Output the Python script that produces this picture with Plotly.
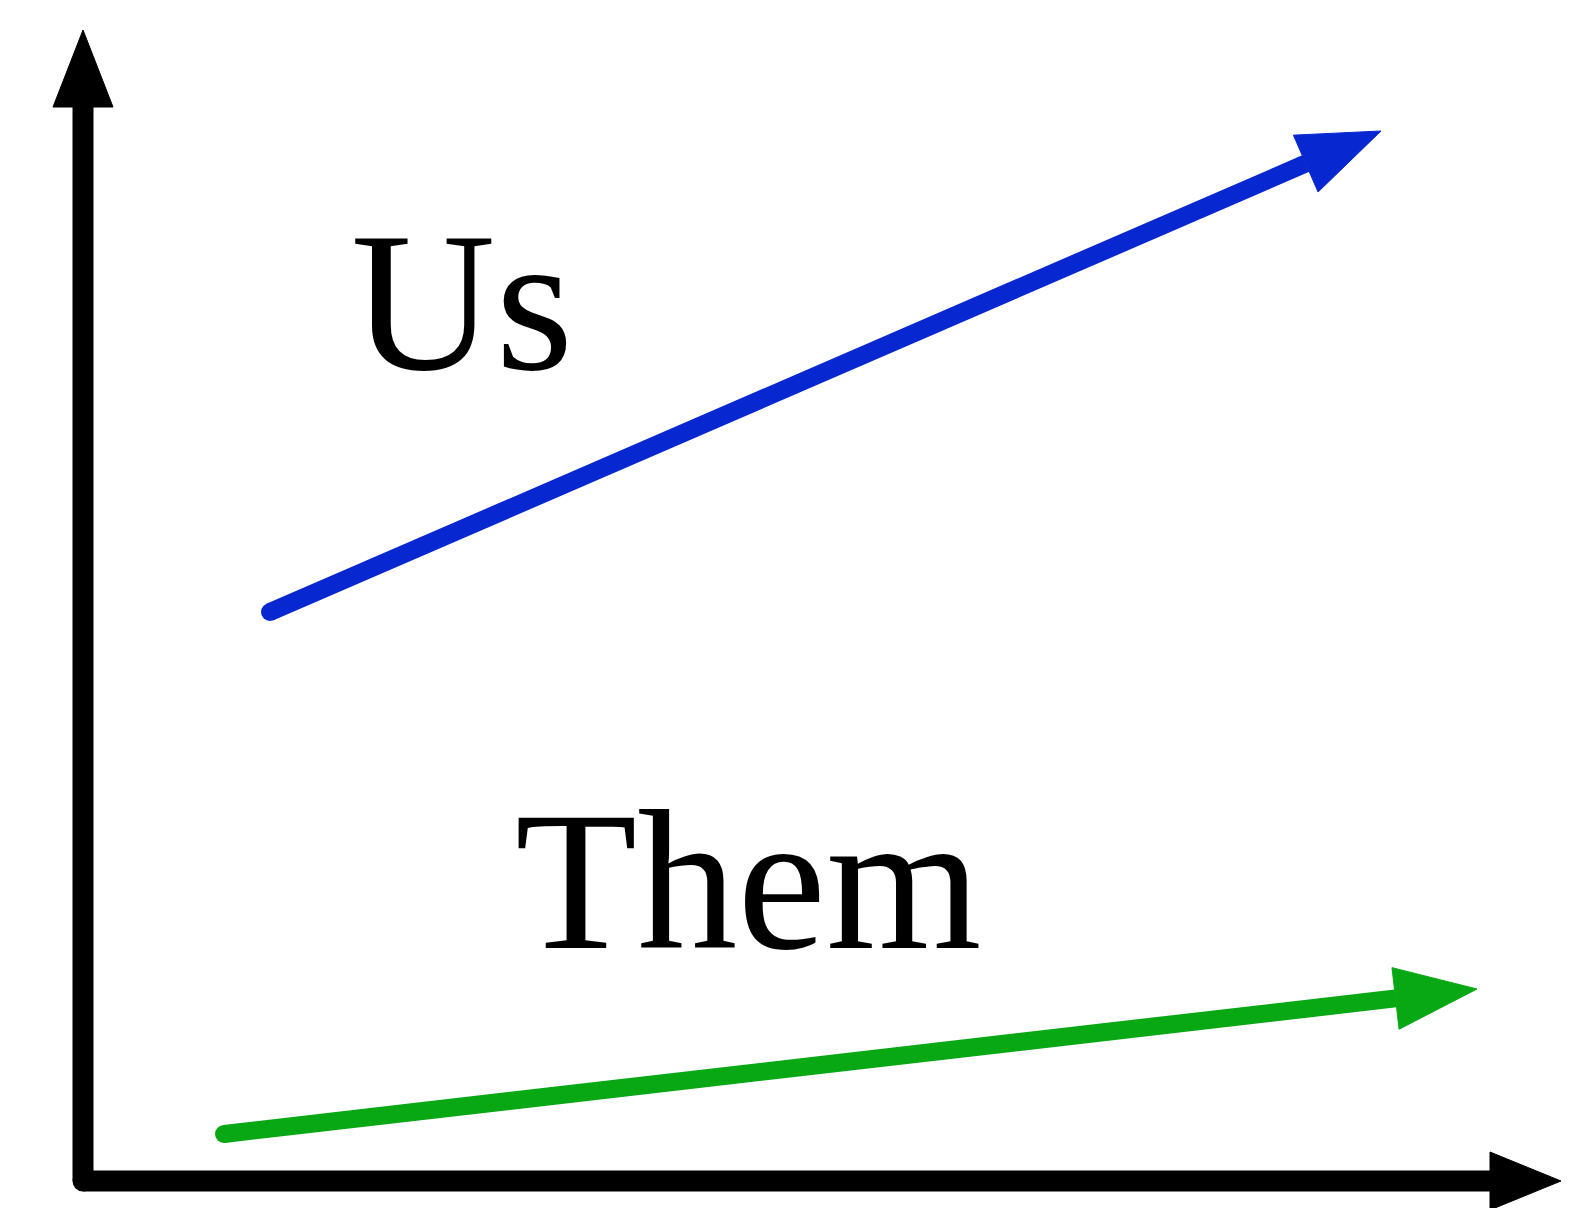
import numpy as np
import plotly.graph_objects as go

# arrow endpoints in chart units (origin = corner of the axes)
us_x = [1.87, 12.98]
us_y = [5.69, 10.50]
them_x = [1.41, 13.94]
them_y = [0.47, 1.92]
axis_x = [0.0, 0.0, 14.78]
axis_y = [11.51, 0.0, 0.0]

labels = ["Us", "Them"]
label_x = [3.79, 6.65]
label_y = [8.80, 3.01]

BLUE = "#0727d1"
GREEN = "#07a814"
BLACK = "#000000"


def head(tip, back, length, half):
    # filled triangle pointing from back -> tip
    tip = np.array(tip)
    d = tip - np.array(back)
    d = d / np.hypot(*d)
    n = np.array([-d[1], d[0]])
    base = tip - length * d
    pts = [tip, base + half * n, base - half * n, tip]
    return [p[0] for p in pts], [p[1] for p in pts], base


fig = go.Figure()


def line(xs, ys, color, width):
    fig.add_trace(go.Scatter(x=xs, y=ys, mode="lines",
                             line=dict(color=color, width=width),
                             hoverinfo="skip"))


def dot(x, y, color, size):
    fig.add_trace(go.Scatter(x=[x], y=[y], mode="markers",
                             marker=dict(color=color, size=size, line=dict(width=0)),
                             hoverinfo="skip"))


def fill(px, py, color):
    fig.add_trace(go.Scatter(x=px, y=py, mode="lines", fill="toself",
                             fillcolor=color, line=dict(color=color, width=1),
                             hoverinfo="skip"))


def arrow(xs, ys, color, width, length, half):
    hx, hy, base = head((xs[-1], ys[-1]), (xs[-2], ys[-2]), length, half)
    line([xs[0], base[0]], [ys[0], base[1]], color, width)
    dot(xs[0], ys[0], color, width)
    fill(hx, hy, color)


# axes: two arrows from the shared corner, rounded outer corner
hx, hy, ybase = head((axis_x[0], axis_y[0]), (axis_x[1], axis_y[1]), 0.77, 0.30)
hx2, hy2, xbase = head((axis_x[2], axis_y[2]), (axis_x[1], axis_y[1]), 0.71, 0.29)
line([axis_x[1], ybase[0]], [axis_y[1], ybase[1]], BLACK, 21)
line([axis_x[1], xbase[0]], [axis_y[1], xbase[1]], BLACK, 21)
dot(axis_x[1], axis_y[1], BLACK, 21)
fill(hx, hy, BLACK)
fill(hx2, hy2, BLACK)

arrow(us_x, us_y, BLUE, 18, 0.82, 0.31)
arrow(them_x, them_y, GREEN, 18, 0.82, 0.31)

for t, x, y in zip(labels, label_x, label_y):
    fig.add_annotation(x=x, y=y, text=t, showarrow=False,
                       xanchor="center", yanchor="middle",
                       font=dict(family="Liberation Serif", size=200, color=BLACK))

fig.update_layout(
    width=1587, height=1208,
    margin=dict(l=0, r=0, t=0, b=0),
    paper_bgcolor="white", plot_bgcolor="white",
    showlegend=False,
    xaxis=dict(range=[-0.83, 15.04], visible=False, fixedrange=True),
    yaxis=dict(range=[-0.27, 11.81], visible=False, fixedrange=True),
)

fig.write_html("out.html", config={"displayModeBar": False},
               post_script="document.body.style.margin='0';")
